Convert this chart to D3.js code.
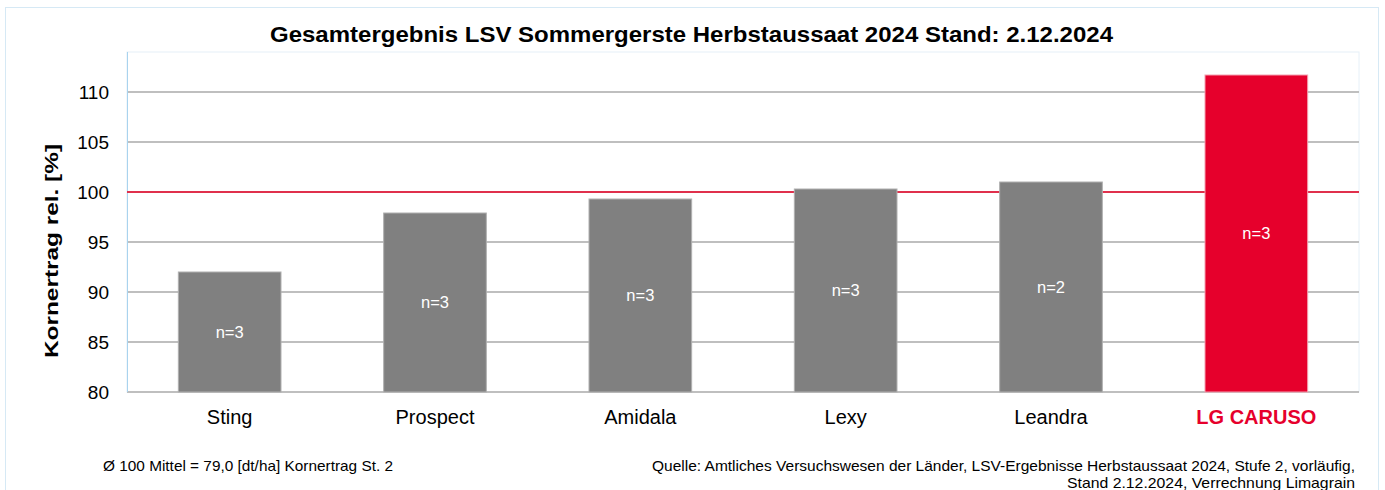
<!DOCTYPE html>
<html>
<head>
<meta charset="utf-8">
<script src="https://cdn.jsdelivr.net/npm/d3@7"></script>
<style>
  body { margin: 0; background: #fff; font-family: "Liberation Sans", Arial, sans-serif; }
</style>
</head>
<body>
<div id="chart"></div>
<script>
var chart_width = 1385,
    chart_height = 490;

// Data
var categories = ['Sting', 'Prospect', 'Amidala', 'Lexy', 'Leandra', 'LG CARUSO'];
var values = [92.0, 97.9, 99.3, 100.3, 101.0, 111.7];
var nLabels = ['n=3', 'n=3', 'n=3', 'n=3', 'n=2', 'n=3'];
var yTicks = [80, 85, 90, 95, 100, 105, 110];
var highlight = 'LG CARUSO';

var margin = { top: 52, right: 26, bottom: 98, left: 127 };
var plot_w = chart_width - margin.left - margin.right,
    plot_h = chart_height - margin.top - margin.bottom;

var svg = d3.select('#chart')
    .append('svg')
    .attr('width', chart_width)
    .attr('height', chart_height);

// outer frame
svg.append('rect')
    .attr('x', 5.5).attr('y', 7.5)
    .attr('width', 1373).attr('height', 490)
    .attr('fill', 'none')
    .attr('stroke', '#d6e9f5');

var x = d3.scaleBand()
    .domain(categories)
    .range([0, plot_w])
    .paddingInner(0.5)
    .paddingOuter(0.25);

var y = d3.scaleLinear()
    .domain([80, 114])
    .range([plot_h, 0]);

var g = svg.append('g')
    .attr('transform', 'translate(' + margin.left + ',' + margin.top + ')');

// plot area border
g.append('rect')
    .attr('x', 0).attr('y', 0)
    .attr('width', plot_w).attr('height', plot_h)
    .attr('fill', 'none')
    .attr('stroke', '#e6f0f8');

// gridlines
g.selectAll('.grid')
    .data(yTicks.filter(function (d) { return d !== 100; }))
    .enter()
    .append('line')
    .attr('x1', 0).attr('x2', plot_w)
    .attr('y1', function (d) { return y(d); })
    .attr('y2', function (d) { return y(d); })
    .attr('stroke', '#bfbfbf')
    .attr('stroke-width', 2);

// left axis line
g.append('line')
    .attr('x1', 0.5).attr('x2', 0.5)
    .attr('y1', 0).attr('y2', plot_h)
    .attr('stroke', '#a9d3ee');

// 100 reference line
g.append('line')
    .attr('x1', 0).attr('x2', plot_w)
    .attr('y1', y(100)).attr('y2', y(100))
    .attr('stroke', '#e0304c')
    .attr('stroke-width', 2);

// bars
g.selectAll('.bar')
    .data(categories)
    .enter()
    .append('rect')
    .attr('x', function (d) { return x(d); })
    .attr('y', function (d, i) { return y(values[i]); })
    .attr('width', x.bandwidth())
    .attr('height', function (d, i) { return plot_h - y(values[i]); })
    .attr('fill', function (d) { return d === highlight ? '#e6002c' : '#808080'; })
    .attr('stroke', function (d) { return d === highlight ? '#f4a0b0' : '#b0b0b0'; })
    .attr('stroke-width', 1);

// n labels
g.selectAll('.nlab')
    .data(categories)
    .enter()
    .append('text')
    .attr('x', function (d) { return x(d) + x.bandwidth() / 2; })
    .attr('y', function (d, i) { return (y(values[i]) + plot_h) / 2; })
    .attr('dy', '0.35em')
    .attr('text-anchor', 'middle')
    .attr('fill', '#ffffff')
    .attr('font-size', 16.5)
    .text(function (d, i) { return nLabels[i]; });

// y axis
var yAxis = d3.axisLeft(y).tickValues(yTicks).tickSize(0).tickPadding(18);
g.append('g')
    .call(yAxis)
    .call(function (s) { s.select('.domain').remove(); })
    .selectAll('text')
    .attr('font-family', '"Liberation Sans", Arial, sans-serif')
    .attr('font-size', 19)
    .attr('fill', '#000');

// x axis
var xAxis = d3.axisBottom(x).tickSize(0).tickPadding(18);
g.append('g')
    .attr('transform', 'translate(0,' + plot_h + ')')
    .call(xAxis)
    .call(function (s) { s.select('.domain').remove(); })
    .selectAll('text')
    .attr('font-family', '"Liberation Sans", Arial, sans-serif')
    .attr('font-size', 20)
    .attr('font-weight', function (d) { return d === highlight ? 'bold' : 'normal'; })
    .attr('fill', function (d) { return d === highlight ? '#e6002c' : '#000'; });

// title
svg.append('text')
    .attr('x', 691.5)
    .attr('y', 42)
    .attr('text-anchor', 'middle')
    .attr('font-size', 21.5)
    .attr('font-weight', 'bold')
    .attr('textLength', 843)
    .attr('lengthAdjust', 'spacingAndGlyphs')
    .text('Gesamtergebnis LSV Sommergerste Herbstaussaat 2024 Stand: 2.12.2024');

// y label
svg.append('text')
    .attr('transform', 'translate(58,251) rotate(-90)')
    .attr('text-anchor', 'middle')
    .attr('font-size', 18)
    .attr('font-weight', 'bold')
    .attr('textLength', 214)
    .attr('lengthAdjust', 'spacingAndGlyphs')
    .text('Kornertrag rel. [%]');

// footer
svg.append('text')
    .attr('x', 103).attr('y', 471)
    .attr('font-size', 14.5)
    .attr('textLength', 290)
    .attr('lengthAdjust', 'spacingAndGlyphs')
    .text('Ø 100 Mittel = 79,0 [dt/ha] Kornertrag St. 2');

svg.append('text')
    .attr('x', 1355).attr('y', 471)
    .attr('text-anchor', 'end')
    .attr('font-size', 14.5)
    .attr('textLength', 703)
    .attr('lengthAdjust', 'spacingAndGlyphs')
    .text('Quelle: Amtliches Versuchswesen der Länder, LSV-Ergebnisse Herbstaussaat 2024, Stufe 2, vorläufig,');

svg.append('text')
    .attr('x', 1355).attr('y', 488)
    .attr('text-anchor', 'end')
    .attr('font-size', 14.5)
    .attr('textLength', 288)
    .attr('lengthAdjust', 'spacingAndGlyphs')
    .text('Stand 2.12.2024, Verrechnung Limagrain');
</script>
</body>
</html>
